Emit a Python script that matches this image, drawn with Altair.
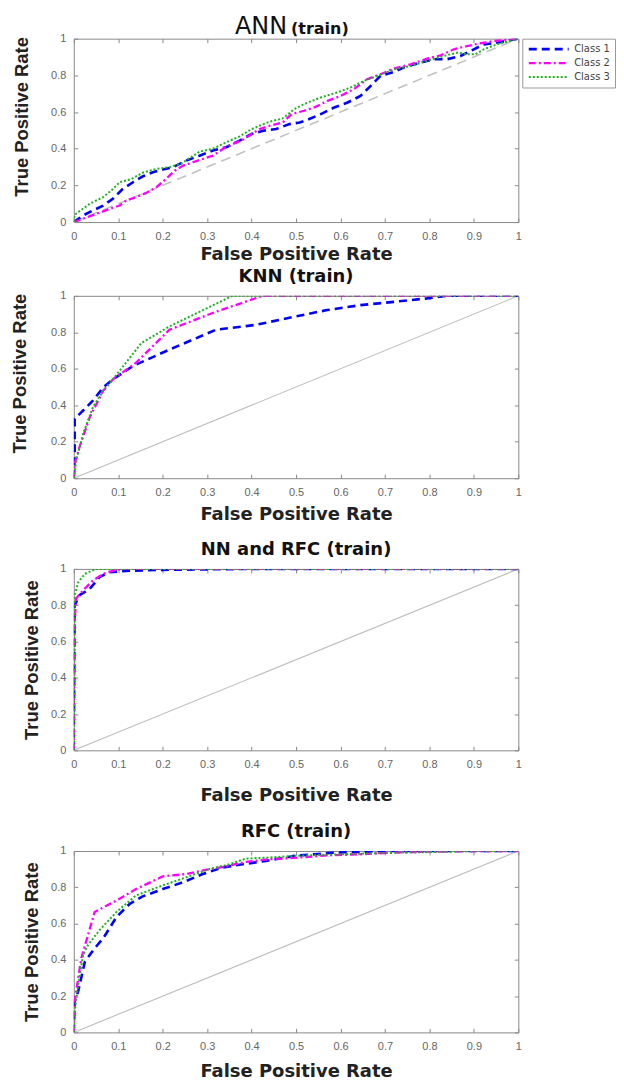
import altair as alt
import pandas as pd

# ---------------- data ----------------
CLASSES = ["Class 1", "Class 2", "Class 3"]
COLORS = ["#0000ff", "#ff00ff", "#22b022"]
DASHES = [[8, 5], [7, 3, 2, 3], [2, 2]]
WIDTHS = [2.6, 2.0, 2.2]
X_TICKS = [0, 0.1, 0.2, 0.3, 0.4, 0.5, 0.6, 0.7, 0.8, 0.9, 1]
Y_TICKS = [0, 0.2, 0.4, 0.6, 0.8, 1]
DIAG_X = [0, 1]
DIAG_Y = [0, 1]

# ANN (train)
ann_c1_fpr = [0, .021, .043, .066, .088, .11, .133, .156, .178, .2, .223, .253, .283, .313, .343, .373, .40, .426, .455, .485, .508, .526, .556, .586, .616, .645, .668, .69, .72, .75, .78, .81, .84, .87, .9, .922, .952, 1.0]
ann_c1_tpr = [0, .036, .063, .09, .127, .18, .217, .25, .272, .286, .299, .335, .362, .39, .408, .444, .48, .498, .507, .534, .543, .558, .589, .625, .652, .688, .743, .797, .819, .851, .87, .888, .888, .906, .942, .969, .978, 1.0]
ann_c2_fpr = [0, .021, .051, .081, .103, .118, .14, .163, .186, .208, .227, .246, .268, .29, .313, .336, .358, .38, .40, .418, .44, .47, .49, .518, .541, .571, .601, .63, .66, .69, .72, .758, .795, .825, .855, .885, .915, .945, 1.0]
ann_c2_tpr = [0, .018, .045, .072, .09, .118, .136, .159, .19, .236, .28, .308, .326, .344, .362, .40, .426, .449, .48, .507, .525, .543, .589, .607, .625, .661, .688, .725, .779, .806, .837, .86, .891, .909, .942, .96, .975, .987, 1.0]
ann_c3_fpr = [0, .002, .036, .066, .088, .103, .13, .156, .186, .216, .24, .26, .283, .313, .343, .373, .40, .418, .44, .47, .496, .518, .556, .593, .623, .653, .683, .72, .758, .795, .833, .863, .885, .904, .922, .952, 1.0]
ann_c3_tpr = [0, .04, .10, .136, .18, .217, .235, .27, .29, .30, .317, .348, .384, .40, .435, .467, .507, .525, .547, .565, .616, .643, .68, .707, .734, .77, .797, .833, .851, .879, .906, .924, .915, .915, .942, .969, 1.0]

# KNN (train)
knn_c1_fpr = [0, .002, .002, .021, .043, .066, .088, .133, .215, .32, .41, .507, .57, .645, .72, .795, .84, 1.0]
knn_c1_tpr = [0, .10, .326, .371, .425, .497, .542, .615, .705, .814, .841, .891, .922, .949, .967, .986, 1.0, 1.0]
knn_c2_fpr = [0, .002, .013, .036, .066, .088, .14, .215, .32, .425, 1.0]
knn_c2_tpr = [0, .081, .172, .335, .479, .542, .633, .814, .913, 1.0, 1.0]
knn_c3_fpr = [0, .006, .021, .043, .066, .088, .152, .215, .357, 1.0]
knn_c3_tpr = [0, .10, .244, .389, .479, .542, .741, .832, 1.0, 1.0]

# NN and RFC (train)
nnr_c1_fpr = [0, .002, .013, .036, .058, .08, .126, .2, .4, 1.0]
nnr_c1_tpr = [0, .80, .855, .89, .955, .982, .99, .995, 1.0, 1.0]
nnr_c2_fpr = [0, .0015, .005, .021, .043, .066, .096, .118, 1.0]
nnr_c2_tpr = [0, .673, .836, .882, .936, .973, .996, 1.0, 1.0]
nnr_c3_fpr = [0, .002, .01, .025, .05, 1.0]
nnr_c3_tpr = [0, .855, .927, .973, 1.0, 1.0]

# RFC (train)
rfc_c1_fpr = [0, .002, .01, .025, .047, .066, .096, .126, .155, .2, .245, .29, .335, .38, .432, .496, .54, .585, .645, .72, 1.0]
rfc_c1_tpr = [0, .173, .227, .39, .464, .518, .636, .709, .75, .79, .827, .873, .909, .927, .945, .973, .982, .991, .995, 1.0, 1.0]
rfc_c2_fpr = [0, .002, .01, .017, .047, .096, .14, .2, .253, .297, .342, .387, .44, .496, .57, .645, .72, .795, .9, 1.0]
rfc_c2_tpr = [0, .173, .30, .41, .664, .727, .79, .86, .873, .896, .915, .94, .955, .962, .976, .982, .991, .996, 1.0, 1.0]
rfc_c3_fpr = [0, .002, .01, .021, .032, .058, .096, .14, .2, .253, .305, .35, .387, .44, .496, .607, .72, .83, .91, 1.0]
rfc_c3_tpr = [0, .118, .264, .427, .482, .564, .664, .755, .81, .855, .90, .927, .958, .964, .973, .982, .991, .995, 1.0, 1.0]

ANN_TITLE = ["ANN", "(train)"]
KNN_TITLE = "KNN (train)"
NNR_TITLE = "NN and RFC (train)"
RFC_TITLE = "RFC (train)"
X_TITLE = "False Positive Rate"
Y_TITLE = "True Positive Rate"

PLOT_W = 446
TICK = 4
FRAME = "#8a8a8a"


def make_df(curves):
    rows = []
    for cls, (fx, ty) in zip(CLASSES, curves):
        for i, (a, b) in enumerate(zip(fx, ty)):
            rows.append({"cls": cls, "fpr": a, "tpr": b, "i": i})
    return pd.DataFrame(rows)


diag_df = pd.DataFrame({"fpr": DIAG_X, "tpr": DIAG_Y})

XS = alt.Scale(domain=[0, 1], nice=False, zero=False)
YS = alt.Scale(domain=[0, 1], nice=False, zero=False)


def panel(curves, h, xt_y, yt_x, yt_shift, show_legend, diag_dashed, title=None):
    df = make_df(curves)
    # main axes (bottom / left) with inward ticks
    x_enc = alt.X("fpr:Q", scale=XS,
                  axis=alt.Axis(values=X_TICKS, format="~g", title=X_TITLE, offset=-TICK,
                                ticks=True, tickSize=TICK, tickColor=FRAME,
                                titleY=xt_y + TICK, titleBaseline="middle", labelFlush=False))
    y_enc = alt.Y("tpr:Q", scale=YS,
                  axis=alt.Axis(values=Y_TICKS, format="~g", title=Y_TITLE, offset=-TICK,
                                ticks=True, tickSize=TICK, tickColor=FRAME,
                                titleX=yt_x - TICK, titleY=h / 2 + yt_shift,
                                titleBaseline="middle", labelFlush=False))
    # tick-only axes (top / right)
    x_top = alt.X("fpr:Q", scale=XS,
                  axis=alt.Axis(orient="top", values=X_TICKS, labels=False, title=None,
                                offset=-TICK, ticks=True, tickSize=TICK, tickColor=FRAME))
    y_right = alt.Y("tpr:Q", scale=YS,
                    axis=alt.Axis(orient="right", values=Y_TICKS, labels=False, title=None,
                                  offset=-TICK, ticks=True, tickSize=TICK, tickColor=FRAME))
    if show_legend:
        leg = alt.Legend(title=None, orient="right", offset=3, padding=5,
                         strokeColor="#9a9a9a", fillColor="white",
                         symbolType="stroke", symbolSize=1600, symbolStrokeWidth=2,
                         labelFont="DejaVu Sans", labelFontSize=10, labelColor="#444",
                         clipHeight=11, rowPadding=3, labelOffset=4)
    else:
        leg = None
    color = alt.Color("cls:N", scale=alt.Scale(domain=CLASSES, range=COLORS), legend=leg)
    dash = alt.StrokeDash("cls:N", scale=alt.Scale(domain=CLASSES, range=DASHES), legend=leg)
    width = alt.StrokeWidth("cls:N", scale=alt.Scale(domain=CLASSES, range=WIDTHS), legend=None)

    if diag_dashed:
        diag = alt.Chart(diag_df).mark_line(color="#c2c2c2", strokeWidth=1.6, strokeDash=[10, 6])
    else:
        diag = alt.Chart(diag_df).mark_line(color="#bdbdbd", strokeWidth=1.1)
    diag = diag.encode(x=x_top, y=y_right)

    lines = alt.Chart(df).mark_line(clip=True).encode(
        x=x_enc, y=y_enc, color=color, strokeDash=dash, strokeWidth=width,
        order=alt.Order("i:Q"))

    layers = [diag, lines]
    if title is None:
        t1 = alt.Chart(pd.DataFrame({"t": [ANN_TITLE[0]]})).mark_text(
            font="DejaVu Sans", fontSize=24, align="right", baseline="alphabetic",
            color="#111").encode(text="t:N", x=alt.value(214), y=alt.value(-5))
        t2 = alt.Chart(pd.DataFrame({"t": [ANN_TITLE[1]]})).mark_text(
            font="DejaVu Sans", fontSize=16, fontWeight="bold", align="left",
            baseline="alphabetic", color="#111").encode(text="t:N", x=alt.value(218), y=alt.value(-5))
        layers += [t1, t2]
        ch = alt.layer(*layers).properties(width=PLOT_W, height=h)
    else:
        ch = alt.layer(*layers).properties(width=PLOT_W, height=h, title=title)
    return ch.resolve_scale(color="independent", strokeDash="independent",
                            strokeWidth="independent").resolve_axis(x="independent", y="independent")


p1 = panel([(ann_c1_fpr, ann_c1_tpr), (ann_c2_fpr, ann_c2_tpr), (ann_c3_fpr, ann_c3_tpr)],
           184, 33, -52, -14, True, True)
p2 = panel([(knn_c1_fpr, knn_c1_tpr), (knn_c2_fpr, knn_c2_tpr), (knn_c3_fpr, knn_c3_tpr)],
           183, 36, -54, -14, False, False,
           title=alt.Title(KNN_TITLE, offset=4))
p3 = panel([(nnr_c1_fpr, nnr_c1_tpr), (nnr_c2_fpr, nnr_c2_tpr), (nnr_c3_fpr, nnr_c3_tpr)],
           182, 45, -42, 0, False, False,
           title=alt.Title(["", NNR_TITLE], offset=4, lineHeight=14))
p4 = panel([(rfc_c1_fpr, rfc_c1_tpr), (rfc_c2_fpr, rfc_c2_tpr), (rfc_c3_fpr, rfc_c3_tpr)],
           182, 39, -42, 0, False, False,
           title=alt.Title(["", RFC_TITLE], offset=4, lineHeight=15))

chart = alt.vconcat(p1, p2, p3, p4, spacing=2).resolve_scale(
    color="independent", strokeDash="independent", strokeWidth="independent"
).resolve_legend(color="independent", strokeDash="independent").properties(
    padding={"left": 2, "top": 4, "right": 0, "bottom": 0}
).configure_view(stroke=FRAME, strokeWidth=1).configure_axis(
    grid=False, domain=False,
    labelFont="Liberation Sans", labelFontSize=11, labelColor="#666", labelPadding=8,
    titleFont="DejaVu Sans", titleFontSize=18, titleFontWeight="bold", titleColor="#222"
).configure_axisY(titleFont="Liberation Sans", titleFontSize=18.5).configure_title(
    font="DejaVu Sans", fontSize=18, fontWeight="bold", color="#111", frame="group", anchor="middle"
)

chart.save("out.html", embed_options={"renderer": "svg", "actions": False})
